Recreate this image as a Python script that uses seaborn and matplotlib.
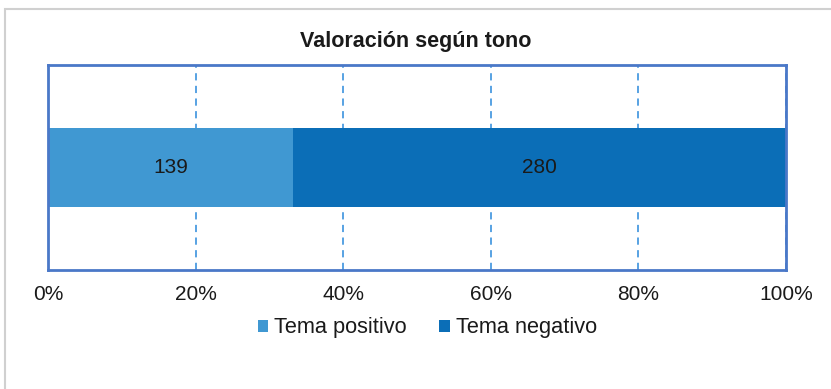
import matplotlib
matplotlib.use("Agg")
import matplotlib.pyplot as plt
from matplotlib.patches import Rectangle
import seaborn as sns
import pandas as pd

# Data
categories = ["Tema positivo", "Tema negativo"]
counts = [139, 280]
colors = ["#4098d2", "#0b6eb7"]
tick_values = [0, 20, 40, 60, 80, 100]
tick_labels = ["0%", "20%", "40%", "60%", "80%", "100%"]
title = "Valoración según tono"

sns.set_theme(style="white")
plt.rcParams["font.family"] = ["Liberation Sans", "DejaVu Sans"]

total = sum(counts)
shares = [c / total * 100 for c in counts]
cum = [sum(shares[: i + 1]) for i in range(len(shares))]

fig = plt.figure(figsize=(8.31, 3.89), dpi=100)
ax = fig.add_axes([48 / 831, 1 - 270 / 389, (786 - 48) / 831, (270 - 65) / 389])

# Stacked 100% bar: draw cumulative totals from the right-most segment backwards
for i in reversed(range(len(categories))):
    df = pd.DataFrame({"row": ["Tono"], "value": [cum[i]]})
    sns.barplot(data=df, x="value", y="row", orient="h", color=colors[i],
                width=0.8, saturation=1, ax=ax, zorder=3, linewidth=0)

# Value labels centred in each segment
left = 0
for s, c in zip(shares, counts):
    ax.text(left + s / 2, 0, str(c), ha="center", va="center",
            fontsize=15, color="#1a1a1a", zorder=4)
    left += s

ax.set_xlim(0, 100)
ax.set_ylim(1.04, -1.04)
ax.set_xticks(tick_values)
ax.set_xticklabels(tick_labels, fontsize=15, color="#1a1a1a")
ax.tick_params(axis="x", length=0, pad=11)
ax.set_yticks([])
ax.set_xlabel("")
ax.set_ylabel("")
ax.grid(axis="x", color="#4a9be0", linestyle=(0, (4, 3)), linewidth=1.3, zorder=1)
ax.set_axisbelow(True)
for sp in ax.spines.values():
    sp.set_visible(True)
    sp.set_color("#4a78c8")
    sp.set_linewidth(2)
    sp.set_zorder(5)

# Title
fig.text(0.5, 1 - 41 / 389, title, ha="center", va="center",
         fontsize=15.5, fontweight="bold", color="#1a1a1a")

# Legend
handles = [Rectangle((0, 0), 1, 1, facecolor=col, edgecolor="none") for col in colors]
fig.legend(handles, categories, loc="center", bbox_to_anchor=(0.514, 1 - 328 / 389),
           ncol=2, frameon=False, fontsize=15.7, handlelength=0.5, handleheight=0.5,
           handletextpad=0.25, columnspacing=1.5, labelcolor="#1a1a1a")

# Outer chart frame
fig.patches.append(Rectangle((5 / 831, -0.05), 1.0, 1 - 9 / 389 + 0.05,
                             transform=fig.transFigure, fill=False,
                             edgecolor="#d0d0d0", linewidth=1.5, zorder=0))

fig.savefig("out.png", dpi=100)
